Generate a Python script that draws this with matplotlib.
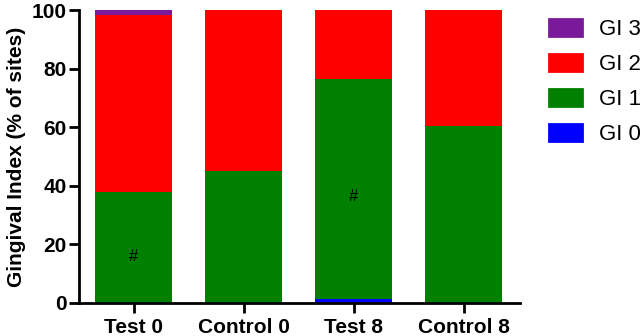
import numpy as np
import matplotlib.pyplot as plt
from matplotlib.patches import Patch

plt.rcParams['font.family'] = ['Liberation Sans', 'DejaVu Sans']

groups = ["Test 0", "Control 0", "Test 8", "Control 8"]
gi0 = [0.0, 0.0, 1.2, 0.0]
gi1 = [38.0, 45.0, 75.3, 60.4]
gi2 = [60.2, 55.0, 23.5, 39.6]
gi3 = [1.8, 0.0, 0.0, 0.0]
series = [("GI 0", gi0, "#0000FF"), ("GI 1", gi1, "#008000"),
          ("GI 2", gi2, "#FF0000"), ("GI 3", gi3, "#7A1A9A")]
marks = [("Test 0", 16), ("Test 8", 36.5)]

fig = plt.figure(figsize=(6.44, 3.36), dpi=100)
ax = fig.add_axes([79 / 644, 33 / 336, 441 / 644, 293 / 336])

x = np.arange(len(groups))
bottom = np.zeros(len(groups))
for name, vals, col in series:
    ax.bar(x, vals, width=0.7, bottom=bottom, color=col, edgecolor="none")
    bottom += np.array(vals)

for g, y in marks:
    ax.text(groups.index(g), y, "#", ha="center", va="center", fontsize=12)

ax.set_xlim(-0.495, 3.51)
ax.set_ylim(0, 100)
ax.set_yticks([0, 20, 40, 60, 80, 100])
ax.set_xticks(x)
ax.set_xticklabels(groups)
for lab in ax.get_xticklabels() + ax.get_yticklabels():
    lab.set_fontweight("bold")
    lab.set_fontsize(15)
ax.tick_params(width=2, length=7)
ax.tick_params(axis="x", pad=4)
ax.tick_params(axis="y", pad=2)
ax.set_ylabel("Gingival Index (% of sites)", fontsize=15, fontweight="bold", labelpad=4)
for s in ["top", "right"]:
    ax.spines[s].set_visible(False)
for s in ["left", "bottom"]:
    ax.spines[s].set_linewidth(2)

handles = [Patch(facecolor=col, edgecolor=col, linewidth=2, joinstyle="round", label=name)
           for name, vals, col in series[::-1]]
fig.legend(handles=handles, loc="upper left", bbox_to_anchor=(549 / 644, 1 - 19 / 336),
           frameon=False, fontsize=16, borderpad=0, borderaxespad=0,
           handlelength=1.5, handleheight=0.78, handletextpad=0.75, labelspacing=0.63)

plt.savefig("out.png", dpi=100)
